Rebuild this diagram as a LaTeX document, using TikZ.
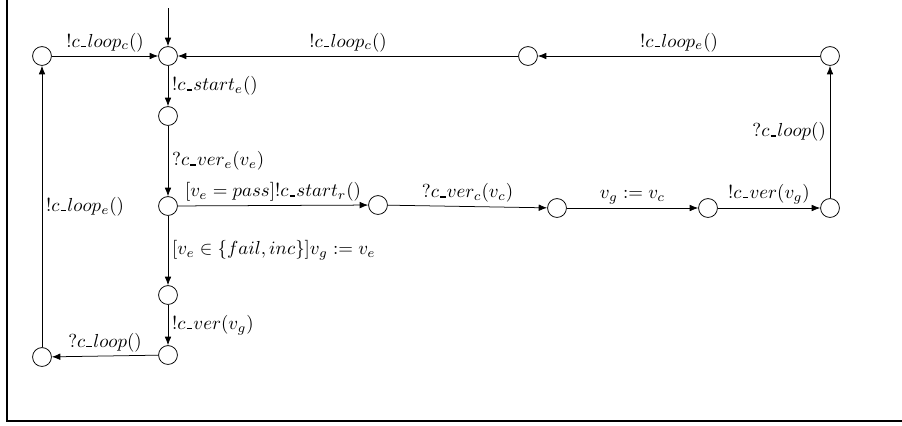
\documentclass[tikz,border=0pt]{standalone}
\usepackage{amsmath}
\usepackage{amssymb}
\usetikzlibrary{arrows.meta}
\newcommand{\us}{\kern.06em\vbox{\hrule width.3em height 0.7pt}\kern.06em}

\begin{document}
\begin{tikzpicture}[x=0.53pt, y=-0.53pt, >={Latex[length=4.5pt,width=3.5pt]},
	loc/.style={circle, draw, fill=white, minimum size=10pt, inner sep=0pt},
	lab/.style={inner sep=2pt}]
\useasboundingbox (0,0) rectangle (902,425);
\draw[line width=1pt] (7,0) -- (7,421) -- (902,421);
% locations
\node[loc] (A) at (42,56) {};
\node[loc] (B) at (168,56) {};
\node[loc] (C) at (528,56) {};
\node[loc] (D) at (830,56) {};
\node[loc] (E) at (168,116) {};
\node[loc] (F) at (168,206) {};
\node[loc] (G) at (378,205) {};
\node[loc] (H) at (557,208) {};
\node[loc] (I) at (708,208) {};
\node[loc] (J) at (830,208) {};
\node[loc] (K) at (168,295) {};
\node[loc] (L) at (168,355) {};
\node[loc] (M) at (42,357) {};
\coordinate (init) at (168,8);
% transitions
\draw[->] (init) -- (B);
\draw[->] (A) -- node[lab, above] {$!c\us loop_c()$} (B);
\draw[->] (C) -- node[lab, above] {$!c\us loop_c()$} (B);
\draw[->] (D) -- node[lab, above] {$!c\us loop_e()$} (C);
\draw[->] (B) -- node[lab, right] {$!c\us start_e()$} (E);
\draw[->] (E) -- node[lab, right] {$?c\us ver_e(v_e)$} (F);
\draw[->] (F) -- node[lab, above] {$[v_e = pass]!c\us start_r()$} (G);
\draw[->] (G) -- node[lab, above] {$?c\us ver_c(v_c)$} (H);
\draw[->] (H) -- node[lab, above] {$v_g := v_c$} (I);
\draw[->] (I) -- node[lab, above] {$!c\us ver(v_g)$} (J);
\draw[->] (J) -- node[lab, left] {$?c\us loop()$} (D);
\draw[->] (F) -- node[lab, right] {$[v_e \in \{fail, inc\}]v_g := v_e$} (K);
\draw[->] (K) -- node[lab, right] {$!c\us ver(v_g)$} (L);
\draw[->] (L) -- node[lab, above] {$?c\us loop()$} (M);
\draw[->] (M) -- node[lab, right] {$!c\us loop_e()$} (A);
\end{tikzpicture}
\end{document}
